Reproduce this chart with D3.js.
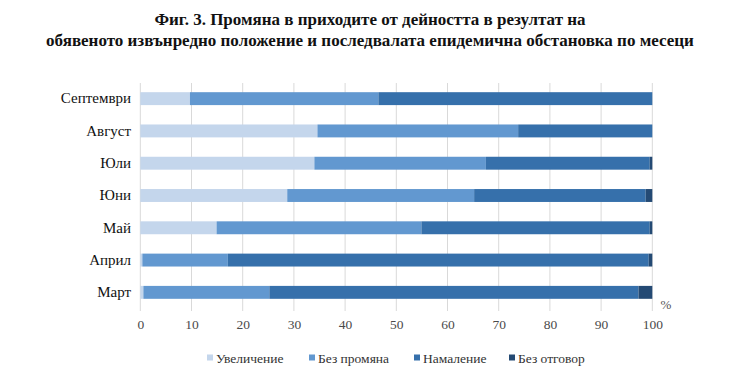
<!DOCTYPE html>
<html><head><meta charset="utf-8">
<script src="https://cdn.jsdelivr.net/npm/d3@7"></script>
<style>
html,body{margin:0;padding:0;background:#fff;}
svg text{font-family:"Liberation Serif","Times New Roman",serif;}
</style></head>
<body>
<svg id="chart" width="740" height="390"></svg>
<script>
const titleLines = ["Фиг. 3. Промяна в приходите от дейността в резултат на",
  "обявеното извънредно положение и последвалата епидемична обстановка по месеци"];
const categories = ["Септември","Август","Юли","Юни","Май","Април","Март"];
const seriesNames = ["Увеличение","Без промяна","Намаление","Без отговор"];
const seriesColors = ["#c4d6ec","#6298d0","#3670ab","#244a74"];
const increase  = [9.7, 34.6, 34.0, 28.7, 14.9, 0.4, 0.6];
const noChange  = [36.8, 39.2, 33.5, 36.5, 40.0, 16.7, 24.6];
const decrease  = [53.5, 26.2, 32.0, 33.5, 44.6, 82.2, 72.1];
const noAnswer  = [0.0, 0.0, 0.5, 1.3, 0.5, 0.7, 2.7];
const xTicks = [0,10,20,30,40,50,60,70,80,90,100];

const FONT = "Liberation Serif, Times New Roman, serif";
const rows = categories.map((c,i)=>({cat:c,"Увеличение":increase[i],"Без промяна":noChange[i],"Намаление":decrease[i],"Без отговор":noAnswer[i]}));
const stacked = d3.stack().keys(seriesNames)(rows);

const svg = d3.select("#chart");
const x = d3.scaleLinear().domain([0,100]).range([140.3,652.3]);
const y = d3.scaleBand().domain(categories).range([82.5,308.5]).paddingInner(0.6).paddingOuter(0.3);
const color = d3.scaleOrdinal().domain(seriesNames).range(seriesColors);

// title
svg.append("g").selectAll("text").data(titleLines).join("text")
  .attr("x",370).attr("y",(d,i)=>25+i*21).attr("text-anchor","middle")
  .attr("font-family",FONT)
  .attr("font-size",17).attr("font-weight","bold").attr("fill","#111").text(d=>d);

// gridlines
svg.append("g").selectAll("line").data(xTicks).join("line")
  .attr("x1",d=>x(d)).attr("x2",d=>x(d)).attr("y1",83).attr("y2",311)
  .attr("stroke","#d9d9d9").attr("stroke-width",1);

// bars
svg.append("g").selectAll("g").data(stacked).join("g")
  .attr("fill",d=>color(d.key))
  .selectAll("rect").data(d=>d).join("rect")
  .attr("x",d=>x(d[0])).attr("width",d=>Math.max(0,x(d[1])-x(d[0])))
  .attr("y",d=>y(d.data.cat)).attr("height",y.bandwidth());

// category axis
const yAxis = svg.append("g").attr("transform","translate(131,0)")
  .call(d3.axisLeft(y).tickSize(0).tickPadding(0))
  .attr("font-family",FONT).attr("font-size",15);
yAxis.select(".domain").remove();
yAxis.selectAll("text").attr("fill","#111");

// x axis labels
const xAxis = svg.append("g").attr("transform","translate(0,319)")
  .call(d3.axisBottom(x).tickValues(xTicks).tickSize(0).tickPadding(0))
  .attr("font-family",FONT).attr("font-size",13.5);
xAxis.select(".domain").remove();
xAxis.selectAll("text").attr("fill","#4a4a4a");

svg.append("text").attr("x",666).attr("y",309).attr("text-anchor","middle")
  .attr("font-family",FONT)
  .attr("font-size",13).attr("fill","#555").text("%");

// legend
const legendX = [207,309,414,509];
const lg = svg.append("g").attr("font-family",FONT).selectAll("g").data(seriesNames).join("g")
  .attr("transform",(d,i)=>`translate(${legendX[i]},358)`);
lg.append("rect").attr("x",0).attr("y",-3.5).attr("width",6).attr("height",6).attr("fill",d=>color(d));
lg.append("text").attr("x",9).attr("y",4.5).attr("font-size",13.5).attr("fill","#333").text(d=>d);
</script>
</body></html>
